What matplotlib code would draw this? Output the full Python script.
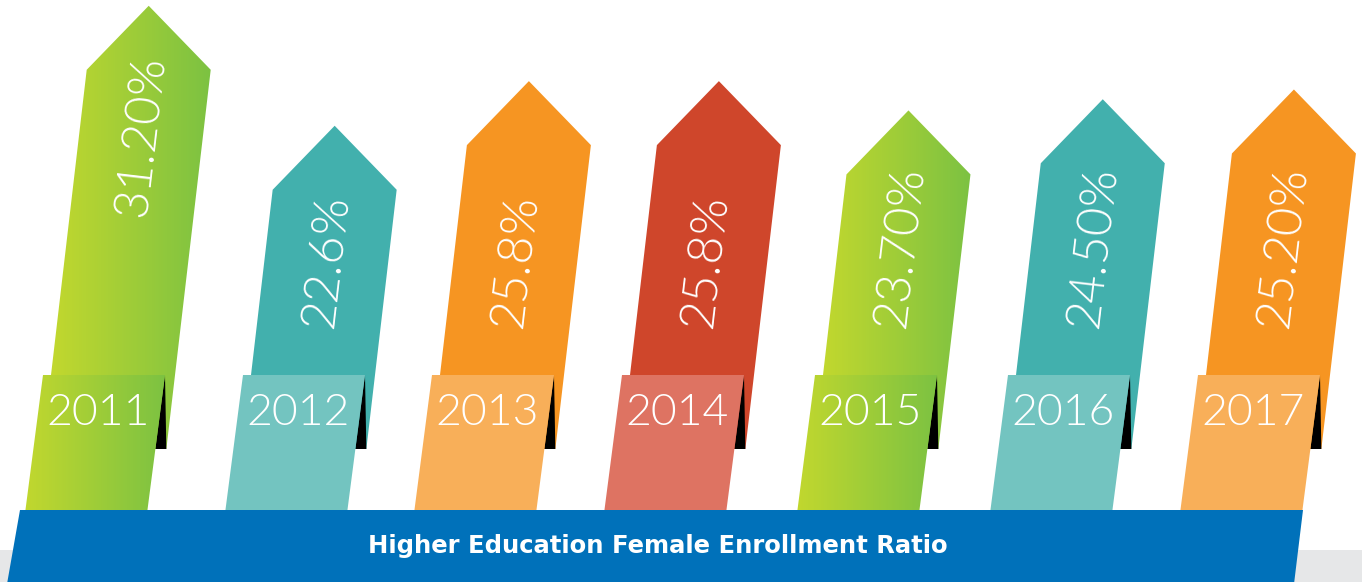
import numpy as np
import matplotlib
matplotlib.use("Agg")
import matplotlib.pyplot as plt
from matplotlib.patches import Polygon
from matplotlib.colors import LinearSegmentedColormap

# ---- data ----
years = ["2011", "2012", "2013", "2014", "2015", "2016", "2017"]
ratios = [31.2, 22.6, 25.8, 25.8, 23.7, 24.5, 25.2]
value_labels = ["31.20%", "22.6%", "25.8%", "25.8%", "23.70%", "24.50%", "25.20%"]
title = "Higher Education Female Enrollment Ratio"

# ---- layout (pixels on a 1362 x 582 canvas) ----
W, H = 1362, 582
PX_PER_UNIT = 13.95          # vertical pixels per percentage point
Y_TOP = 31.615               # ratio value at the top edge of the canvas
SLANT = 0.117                # horizontal lean of arrows per pixel of height
TAB_SLANT = 0.13             # lean of the year tabs
ARROW_W = 124
HEAD_H = 64
TAB_W = 122
TAB_TOP, ARROW_END, BAR_TOP = 375, 449, 510
anchors = [43, 243, 432, 622, 815, 1008, 1198]   # left corner of each tab top
label_start_rows = [218, 329, 329, 329, 329, 329, 329]
styles = ["green", "teal", "orange", "red", "green", "teal", "orange"]

palette = {
    "teal": ("#42B0AD", "#73C4C0"),
    "orange": ("#F69522", "#F8AF59"),
    "red": ("#CF462B", "#DE7362"),
}
green_cmap = LinearSegmentedColormap.from_list("lime", ["#C6D92D", "#7CC242"])


def row(p):
    """Canvas pixel row -> data y (ratio units)."""
    return Y_TOP - p / PX_PER_UNIT


def px_of(y):
    return (Y_TOP - y) * PX_PER_UNIT


fig = plt.figure(figsize=(W / 100, H / 100), dpi=100)
ax = fig.add_axes([0, 0, 1, 1])
ax.set_axis_off()


def fill(verts, style, tab=False, z=2):
    if style == "green":
        patch = Polygon(verts, closed=True, facecolor="none", edgecolor="none", zorder=z)
        ax.add_patch(patch)
        xs = [v[0] for v in verts]
        ys = [v[1] for v in verts]
        grad = np.linspace(0, 1, 256)[None, :]
        im = ax.imshow(grad, extent=[min(xs), max(xs), min(ys), max(ys)],
                       cmap=green_cmap, aspect="auto", origin="lower",
                       interpolation="bilinear", zorder=z)
        im.set_clip_path(patch)
    else:
        color = palette[style][1 if tab else 0]
        ax.add_patch(Polygon(verts, closed=True, facecolor=color,
                             edgecolor="none", zorder=z))


# light grey floor strip
ax.add_patch(Polygon([(0, row(550)), (W, row(550)), (W, row(H + 5)), (0, row(H + 5))],
                     closed=True, facecolor="#E6E7E8", edgecolor="none", zorder=0))

for i, (yr, val, lab) in enumerate(zip(years, ratios, value_labels)):
    a = anchors[i]
    st = styles[i]

    def left_at(p):
        return a + 8 + SLANT * (TAB_TOP - p)

    tip_y = val
    sh_p = px_of(val) + HEAD_H
    sh_y = val - HEAD_H / PX_PER_UNIT
    lx = left_at(sh_p)
    arrow = [
        (lx + ARROW_W / 2, tip_y),
        (lx + ARROW_W, sh_y),
        (left_at(ARROW_END) + ARROW_W, row(ARROW_END)),
        (left_at(ARROW_END), row(ARROW_END)),
        (lx, sh_y),
    ]
    fill(arrow, st, z=2)

    # folded shadow between tab and arrow
    shadow = [
        (a + TAB_W, row(TAB_TOP)),
        (a + TAB_W - TAB_SLANT * (ARROW_END - TAB_TOP), row(ARROW_END)),
        (left_at(ARROW_END) + ARROW_W, row(ARROW_END)),
    ]
    ax.add_patch(Polygon(shadow, closed=True, facecolor="black",
                         edgecolor="none", zorder=3))

    # year tab
    bot = H + 2
    dx = TAB_SLANT * (bot - TAB_TOP)
    tab = [(a, row(TAB_TOP)), (a + TAB_W, row(TAB_TOP)),
           (a + TAB_W - dx, row(bot)), (a - dx, row(bot))]
    fill(tab, st, tab=True, z=4)

    tab_cx = a + TAB_W / 2 - TAB_SLANT * 33 - 2
    ax.text(tab_cx, row(425), yr, ha="center", va="baseline", color="white",
            fontsize=32, family="Lato", fontweight=300, zorder=6)

    # value written along the arrow
    sp = label_start_rows[i]
    cx = left_at(sp) + ARROW_W / 2
    ax.text(cx + 13.5, row(sp), lab, ha="left", va="baseline", color="white",
            fontsize=35, family="Lato", fontweight=300,
            rotation=90 - np.degrees(np.arctan(SLANT)), rotation_mode="anchor",
            zorder=6)

# blue title band
ax.add_patch(Polygon([(20, row(BAR_TOP)), (1303, row(BAR_TOP)),
                      (1294, row(H + 2)), (7, row(H + 2))],
                     closed=True, facecolor="#0071BA", edgecolor="none", zorder=7))
ax.text(657.5, row(553), title, ha="center", va="baseline", color="white",
        fontsize=17.5, family="DejaVu Sans", fontweight="bold", zorder=8)

ax.set_xlim(0, W)
ax.set_ylim(row(H), row(0))
fig.savefig("out.png", dpi=100, facecolor="white")
